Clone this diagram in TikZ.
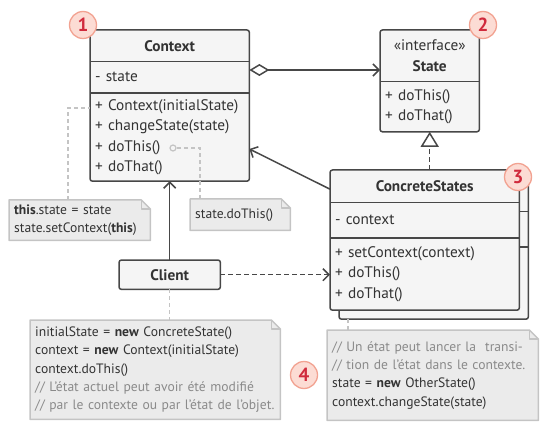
\documentclass[tikz,border=0pt]{standalone}
\usepackage{fontspec}
\setmainfont{PT Sans}
\usetikzlibrary{positioning,arrows.meta,backgrounds}

\definecolor{edge}{HTML}{474747}
\definecolor{boxfill}{HTML}{F5F5F5}
\definecolor{txt}{HTML}{333333}
\definecolor{notefill}{HTML}{EBEBEB}
\definecolor{noteline}{HTML}{C4C4C4}
\definecolor{cmt}{HTML}{8A8A8A}
\definecolor{mkfill}{HTML}{FCDCD4}
\definecolor{mkline}{HTML}{F2A291}
\definecolor{mktext}{HTML}{D02A3C}

\newcommand{\umlfont}{\fontsize{15.3}{20.5}\selectfont\hyphenpenalty=10000}
\newcommand{\notefont}{\fontsize{13.6}{18.3}\selectfont}

\tikzset{
	uml/.style={inner xsep=5pt, inner ysep=0pt, text=txt, align=left, font=\umlfont},
	umlhead/.style={uml, align=center, font=\umlfont\bfseries},
	frame/.style={draw=edge, fill=boxfill, line width=1.5pt, rounded corners=2.5pt},
	notebox/.style={inner xsep=5pt, inner ysep=0pt, anchor=north west, align=left, text=txt, font=\notefont},
	noteframe/.style={draw=noteline, fill=notefill, line width=1.5pt, line join=round},
	notelink/.style={draw=noteline, line width=1.3pt, dash pattern=on 4pt off 3pt},
	link/.style={draw=edge, line width=1.5pt},
	marker/.style={circle, draw=mkline, fill=mkfill, line width=1.3pt, minimum size=27pt, inner sep=0pt, text=mktext, font=\bfseries\fontsize{19}{19}\selectfont},
}

\begin{document}
\begin{tikzpicture}[x=1pt, y=-1pt]
	\useasboundingbox (0,0) rectangle (540,430);

	% Context
	\node[umlhead, anchor=north west, text width=149pt, minimum height=31pt] (ctxH) at (90,30) {Context};
	\node[uml, below=0pt of ctxH, text width=149pt, minimum height=31pt] (ctxA) {- state};
	\node[uml, below=0pt of ctxA, text width=149pt, minimum height=88pt] (ctxM)
		{+ Context(initialState)\\+ changeState(state)\\+ doThis()\\+ doThat()};

	% State
	\node[umlhead, anchor=north west, text width=89pt, minimum height=51pt] (stH) at (380,30)
		{{\mdseries «interface»}\\State};
	\node[uml, below=0pt of stH, text width=89pt, minimum height=50pt] (stM) {+ doThis()\\+ doThat()};

	% ConcreteStates
	\node[umlhead, anchor=north west, text width=179pt, minimum height=32pt] (csH) at (330,170) {ConcreteStates};
	\node[uml, below=0pt of csH, text width=179pt, minimum height=35pt] (csA) {- context};
	\node[uml, below=0pt of csA, text width=179pt, minimum height=72pt] (csM)
		{+ setContext(context)\\+ doThis()\\+ doThat()};

	% Client
	\node[umlhead, anchor=north west, minimum width=101pt, minimum height=29pt] (cl) at (119,260) {Client};

	% notes
	\node[notebox, text width=131pt, minimum height=40pt] (n1) at (9,200)
		{\textbf{this}.state = state\\state.setContext(\textbf{this})};
	\node[notebox, text width=90pt, minimum height=31pt] (n2) at (190,199) {state.doThis()};
	\node[notebox, text width=240pt, minimum height=99pt] (n3) at (30,320)
		{initialState = \textbf{new} ConcreteState()\\
		context = \textbf{new} Context(initialState)\\
		context.doThis()\\
		{\color{cmt}// L'état actuel peut avoir été modifié}\\
		{\color{cmt}// par le contexte ou par l'état de l'objet.}};
	\node[notebox, text width=201pt, minimum height=90pt] (n4) at (327,330)
		{{\color{cmt}// Un état peut lancer la\ \ transi-}\\
		{\color{cmt}// tion de l'état dans le contexte.}\\
		state = \textbf{new} OtherState()\\
		context.changeState(state)};

	\begin{scope}[on background layer]
		\draw[frame] (ctxH.north west) rectangle (ctxM.south east);
		\draw[frame] (stH.north west) rectangle (stM.south east);
		\draw[frame] ([shift={(9pt,-9pt)}]csH.north west) rectangle ([shift={(9pt,-9pt)}]csM.south east);
		\draw[edge, line width=1.5pt] ([shift={(9pt,-9pt)}]csA.north west) -- ([shift={(9pt,-9pt)}]csA.north east);
		\draw[edge, line width=1.5pt] ([shift={(9pt,-9pt)}]csM.north west) -- ([shift={(9pt,-9pt)}]csM.north east);
		\draw[frame] (csH.north west) rectangle (csM.south east);
		\draw[frame, fill=boxfill] (cl.north west) rectangle (cl.south east);
		\foreach \n in {n1,n2,n3,n4} {
			\draw[noteframe] (\n.north west) -- ([xshift=-9pt]\n.north east)
				-- ([yshift=-9pt]\n.north east) -- (\n.south east) -- (\n.south west) -- cycle;
			\draw[noteframe, fill=none] ([xshift=-9pt]\n.north east) |- ([yshift=-9pt]\n.north east);
		}
	\end{scope}

	% compartment lines
	\foreach \p in {ctxA,ctxM,stM,csA,csM}
		\draw[edge, line width=1.5pt] (\p.north west) -- (\p.north east);

	% note links
	\node[circle, draw=noteline, fill=boxfill, line width=1.2pt, minimum size=6pt, inner sep=0pt] (dot) at (173,148) {};
	\draw[notelink] (n1.north -| 68,0) |- (ctxM.west |- 0,108);
	\draw[notelink] (n2.north -| 200,0) |- (dot.east);
	\draw[notelink] (cl.south) -- (cl.south |- n3.north);
	\draw[notelink] (n4.north -| 348,0) -- (348,318);

	% relations
	\draw[link, {Diamond[open, fill=white, length=20pt, width=12pt]}-{Straight Barb[length=6pt, width=12pt]}]
		(ctxA.east |- 0,70) -- (stH.west |- 0,70);
	\draw[link, dash pattern=on 5pt off 3pt, -{Triangle[open, fill=white, length=15pt, width=18pt]}]
		(stM.south |- csH.north) -- (stM.south);
	\draw[link, -{Straight Barb[length=6pt, width=12pt]}] ([yshift=-3pt]csH.west) -- (ctxM.east |- 0,149);
	\draw[link, -{Straight Barb[length=6pt, width=12pt]}] (cl.north) -- (cl.north |- ctxM.south);
	\draw[link, dash pattern=on 5pt off 3pt, -{Straight Barb[length=6pt, width=12pt]}] (cl.east) -- (cl.east -| csM.west);

	% markers
	\node[marker] (m1) at (83,25) {1};
	\node[marker] (m2) at (483,25) {2};
	\node[marker] (m3) at (518,177) {3};
	\node[marker] (m4) at (304,375) {4};
\end{tikzpicture}
\end{document}
